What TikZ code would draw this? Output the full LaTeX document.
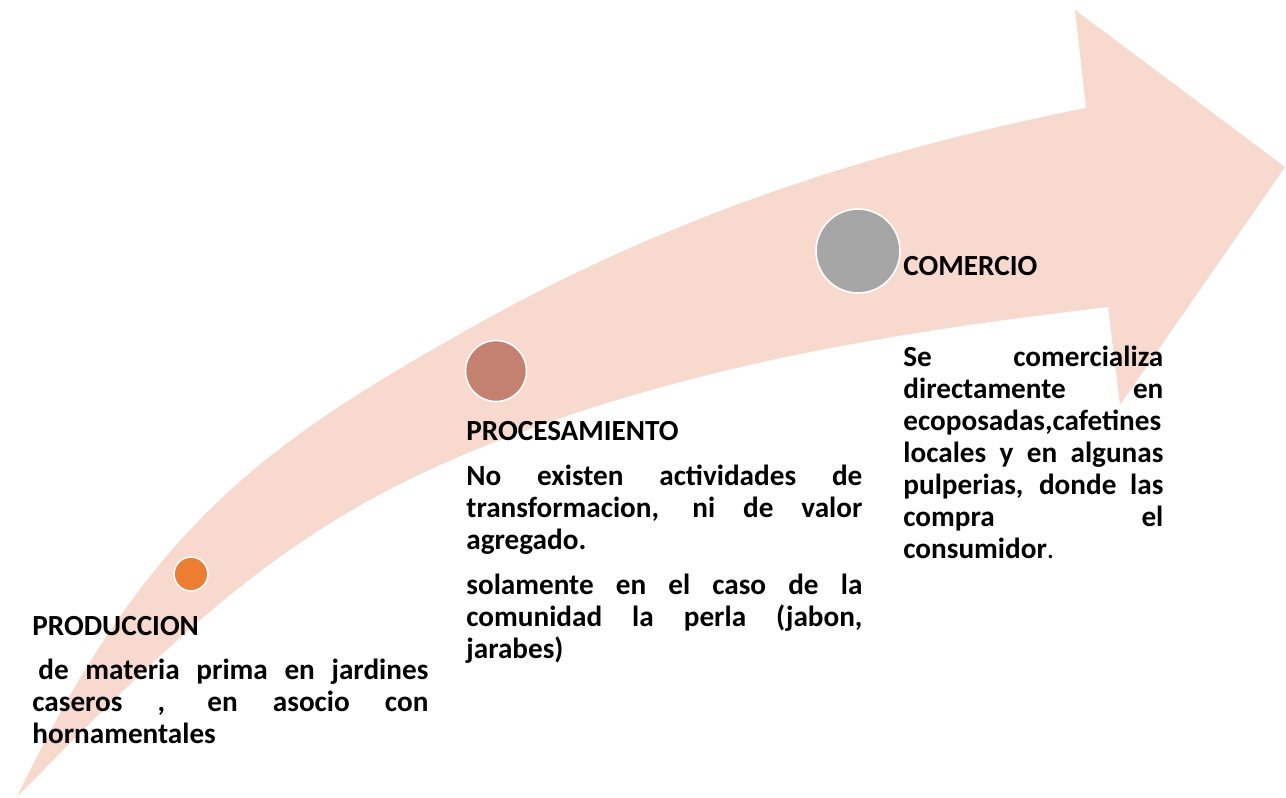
\documentclass[tikz,border=0pt]{standalone}
\usepackage{fontspec}
\setmainfont{Carlito}
\usepackage{tikz}
\definecolor{bandpink}{HTML}{F8D9CE}
\definecolor{dotorange}{HTML}{ED7D31}
\definecolor{dotbrown}{HTML}{C48170}
\definecolor{dotgray}{HTML}{A6A6A6}
\newcommand{\jl}[2][198pt]{\makebox[#1][s]{\spaceskip=\fontdimen2\font plus 1fil\relax #2}}

\begin{document}
\begin{tikzpicture}[x=0.5pt,y=-0.5pt,
  dot/.style={circle,draw=white,line width=0.8pt,inner sep=0pt},
  head/.style={anchor=base west,inner sep=0pt,font=\fontsize{14.6}{16}\selectfont\bfseries},
  body/.style={head,text width=198pt,align=left}]
\useasboundingbox (0,0) rectangle (1286,798);
% the curved band
\fill[bandpink] (17,797) .. controls (197,613) and (300,517) .. (500,440)
  .. controls (703,362) and (905,331) .. (1108,307)
  -- (1120,405) -- (1285,167) -- (1075,10) -- (1086,108)
  .. controls (880,149) and (673,213) .. (467,330)
  .. controls (267,443) and (147,525) .. cycle;
% stages
\node[dot,fill=dotorange,minimum size=17pt] (d1) at (191,574) {};
\node[dot,fill=dotbrown,minimum size=30.5pt] (d2) at (496,371) {};
\node[dot,fill=dotgray,minimum size=42pt] (d3) at (858,251) {};
\node[head] (h1) at (32,635) {PRODUCCION};
\node[head] (h2) at (466,440) {PROCESAMIENTO};
\node[head] (h3) at (903,275) {COMERCIO};
\node[body] (t1) at (32,679) {\jl{\hspace*{3pt}de materia prima en jardines}\\
  \jl{caseros , en asocio con}\\ hornamentales};
\node[body] (t2) at (466,485) {\jl{No existen actividades de}\\
  \jl{transformacion, ni de valor}\\ agregado.\\[6.5pt]
  \jl{solamente en el caso de la}\\ \jl{comunidad la perla (jabon,}\\ jarabes)};
\node[body,text width=130pt] (t3) at (903,366) {\jl[130pt]{Se comercializa}\\
  \jl[130pt]{directamente en}\\ \jl[130pt]{ecoposadas,cafetines}\\
  \jl[130pt]{locales y en algunas}\\ \jl[130pt]{pulperias, donde las}\\
  \jl[130pt]{compra el}\\ consumidor{\mdseries.}};
\end{tikzpicture}
\end{document}
